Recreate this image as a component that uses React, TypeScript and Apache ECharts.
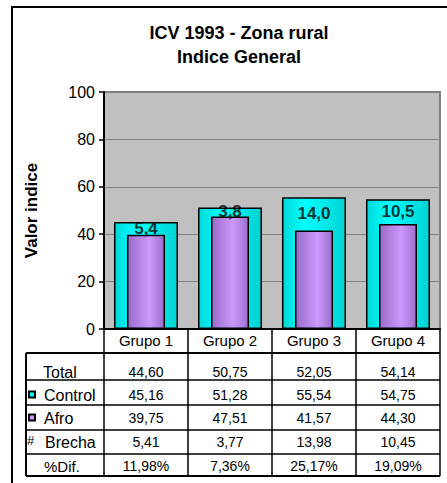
import React, { useEffect, useRef } from "react";
import * as echarts from "echarts";

const groups = ["Grupo 1", "Grupo 2", "Grupo 3", "Grupo 4"];
const totalValues = [44.6, 50.75, 52.05, 54.14];
const controlValues = [45.16, 51.28, 55.54, 54.75];
const afroValues = [39.75, 47.51, 41.57, 44.3];
const brechaValues = [5.41, 3.77, 13.98, 10.45];
const pctDifValues = [11.98, 7.36, 25.17, 19.09];
const yTicks = { min: 0, max: 100, interval: 20 };

const FONT = '"Liberation Sans", Arial, sans-serif';
const fmt = (v: number, d: number) => {
  const p = Math.pow(10, d);
  return (Math.round(v * p + 1e-6) / p).toFixed(d).replace(".", ",");
};

export default function App() {
  const ref = useRef<HTMLDivElement>(null);
  useEffect(() => {
    if (!ref.current) return;
    const chart = echarts.init(ref.current, null, { renderer: "svg" });
    const cyan = new echarts.graphic.LinearGradient(0, 0, 1, 0, [
      { offset: 0, color: "#00D8D8" },
      { offset: 0.35, color: "#00FFFF" },
      { offset: 1, color: "#00D2D2" },
    ]);
    const purple = new echarts.graphic.LinearGradient(0, 0, 1, 0, [
      { offset: 0, color: "#9A6CC8" },
      { offset: 0.6, color: "#CC99FF" },
      { offset: 1, color: "#9C6FCB" },
    ]);
    chart.setOption({
      animation: false,
      backgroundColor: "#ffffff",
      textStyle: { fontFamily: FONT },
      title: {
        text: "ICV 1993 - Zona rural\nIndice General",
        left: 234,
        top: 16,
        textAlign: "center",
        textStyle: { fontFamily: FONT, fontSize: 18, fontWeight: "bold", color: "#000", lineHeight: 24 },
      },
      grid: {
        left: 104,
        top: 92,
        right: 7,
        bottom: 154,
        show: true,
        backgroundColor: "#C0C0C0",
        borderColor: "#808080",
        borderWidth: 2,
      },
      xAxis: [
        {
          type: "category",
          data: groups,
          axisLine: { show: true, lineStyle: { color: "#000", width: 2 } },
          axisTick: { show: true, length: 147, lineStyle: { color: "#000", width: 1.5 } },
          axisLabel: { show: true, color: "#000", fontSize: 15, fontFamily: FONT, margin: 4 },
          z: 10,
        },
        { type: "category", data: groups, show: false },
      ],
      yAxis: {
        type: "value",
        min: yTicks.min,
        max: yTicks.max,
        interval: yTicks.interval,
        name: "Valor indice",
        nameLocation: "middle",
        nameGap: 64,
        nameTextStyle: { fontFamily: FONT, fontSize: 17, fontWeight: "bold", color: "#000" },
        axisLine: { show: true, lineStyle: { color: "#000", width: 2 } },
        axisTick: { show: true, length: 5, lineStyle: { color: "#000", width: 1.5 } },
        axisLabel: { color: "#000", fontSize: 16, fontFamily: FONT, margin: 9 },
        splitLine: { show: true, lineStyle: { color: "#808080", width: 1 } },
      },
      series: [
        {
          type: "bar",
          name: "Control",
          xAxisIndex: 0,
          data: controlValues,
          barWidth: 64,
          itemStyle: { color: cyan, borderColor: "#000", borderWidth: 1.5 },
          z: 2,
        },
        {
          type: "bar",
          name: "Afro",
          xAxisIndex: 1,
          data: afroValues,
          barWidth: 38,
          itemStyle: { color: purple, borderColor: "#000", borderWidth: 1.5 },
          z: 3,
        },
        {
          type: "scatter",
          name: "Brecha",
          xAxisIndex: 0,
          data: groups.map((g, i) => [g, (controlValues[i] + afroValues[i]) / 2, brechaValues[i]]),
          symbolSize: 1,
          itemStyle: { color: "rgba(0,0,0,0)" },
          label: {
            show: true,
            position: "inside",
            formatter: (p: any) => fmt(p.value[2], 1),
            fontFamily: FONT,
            fontSize: 17,
            fontWeight: "bold",
            color: "#000",
          },
          z: 5,
        },
      ],
    });

    const xs = groups.map((g) => chart.convertToPixel({ xAxisIndex: 0 }, g) as number);
    const band = xs[1] - xs[0];
    const right = xs[xs.length - 1] + band / 2;
    const tableLeft = 26;
    const hLines = [
      { y: 353, w: 2 },
      { y: 380, w: 1.5 },
      { y: 405, w: 1.5 },
      { y: 430, w: 1.5 },
      { y: 454, w: 1.5 },
      { y: 476, w: 2 },
    ];
    const rowY = [372, 395, 418, 442, 466];
    const rows = [
      totalValues.map((v) => fmt(v, 2)),
      controlValues.map((v) => fmt(v, 2)),
      afroValues.map((v) => fmt(v, 2)),
      brechaValues.map((v) => fmt(v, 2)),
      pctDifValues.map((v) => fmt(v, 2) + "%"),
    ];
    const txt = (x: number, y: number, text: string, align: string, size: number) => ({
      type: "text",
      x,
      y,
      silent: true,
      style: {
        text,
        fontFamily: FONT,
        fontSize: size,
        fill: "#000",
        align,
        verticalAlign: "middle",
      },
    });
    const graphic: any[] = [
      {
        type: "rect",
        shape: { x: 12, y: 7, width: 600, height: 600 },
        style: { fill: "none", stroke: "#000", lineWidth: 2 },
        silent: true,
      },
      ...hLines.map((l) => ({
        type: "line",
        shape: { x1: tableLeft, y1: l.y, x2: right, y2: l.y },
        style: { stroke: "#000", lineWidth: l.w },
        silent: true,
      })),
      {
        type: "line",
        shape: { x1: tableLeft, y1: 353, x2: tableLeft, y2: 476 },
        style: { stroke: "#000", lineWidth: 2 },
        silent: true,
      },
      txt(43, rowY[0], "Total", "left", 16),
      txt(44, rowY[1], "Control", "left", 16),
      txt(44, rowY[2], "Afro", "left", 16),
      txt(27, rowY[3] - 2, "#", "left", 13),
      txt(45, rowY[3], "Brecha", "left", 16),
      txt(44, rowY[4], "%Dif.", "left", 15),
      {
        type: "rect",
        shape: { x: 29, y: rowY[1] - 3.5, width: 6, height: 6 },
        style: { fill: "#00FFFF", stroke: "#000", lineWidth: 2 },
        silent: true,
      },
      {
        type: "rect",
        shape: { x: 29, y: rowY[2] - 3.5, width: 6, height: 6 },
        style: { fill: "#CC99FF", stroke: "#000", lineWidth: 2 },
        silent: true,
      },
    ];
    rows.forEach((r, ri) => {
      r.forEach((t, ci) => graphic.push(txt(xs[ci], rowY[ri], t, "center", 14)));
    });
    chart.setOption({ graphic });
    return () => chart.dispose();
  }, []);
  return (
    <div
      ref={ref}
      style={{ position: "fixed", left: 0, top: 0, width: 447, height: 483 }}
    />
  );
}
